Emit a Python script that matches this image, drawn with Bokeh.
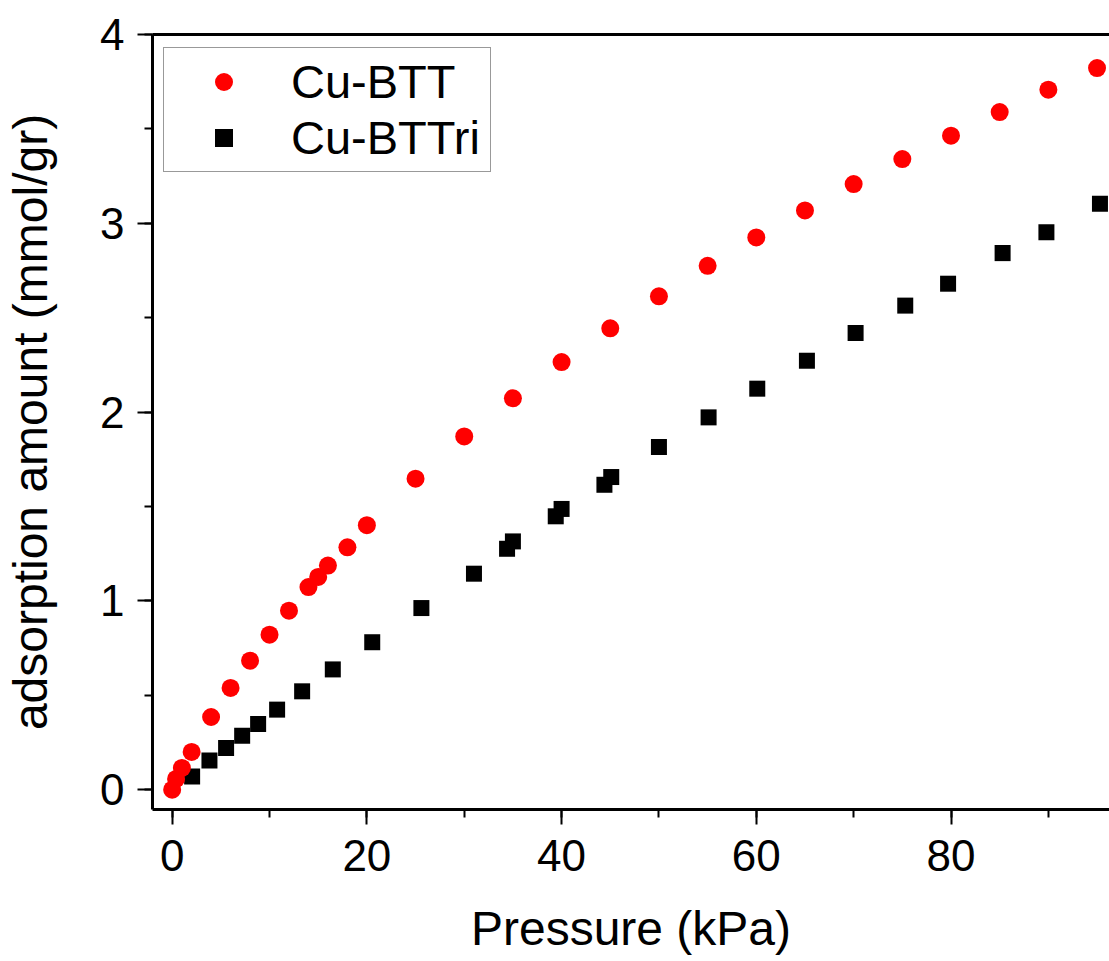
from bokeh.plotting import figure
from bokeh.models import (Range1d, SingleIntervalTicker, LinearAxis, FixedTicker,
                          Legend, LegendItem)
from bokeh.embed import file_html
from bokeh.resources import INLINE

# Cu-BTT (red circles)
btt_p = [0, 0.4, 1, 2, 4, 6, 8, 10, 12, 14, 15, 16, 18, 20, 25, 30, 35, 40, 45,
         50, 55, 60, 65, 70, 75, 80, 85, 90, 95]
btt_q = [0.0, 0.057, 0.115, 0.20, 0.385, 0.539, 0.683, 0.821, 0.948, 1.073, 1.127,
         1.187, 1.284, 1.401, 1.647, 1.871, 2.073, 2.265, 2.444,
         2.613, 2.775, 2.925, 3.068, 3.208, 3.340, 3.464, 3.589, 3.708, 3.822]

# Cu-BTTri (black squares)
bttri_p = [2.05, 3.83, 5.54, 7.19, 8.83, 10.78, 13.35, 16.5, 20.55, 25.6, 31.0,
           34.4, 35.0, 39.4, 40.0, 44.4, 45.1, 50.0, 55.1, 60.1, 65.2, 70.2,
           75.3, 79.7, 85.3, 89.8, 95.3]
bttri_q = [0.07, 0.154, 0.221, 0.286, 0.348, 0.424, 0.521, 0.637, 0.781, 0.962,
           1.144, 1.276, 1.315, 1.448, 1.487, 1.615, 1.656, 1.815, 1.972, 2.124,
           2.272, 2.419, 2.564, 2.680, 2.842, 2.952, 3.104]

x_label = "Pressure (kPa)"
y_label = "adsorption amount (mmol/gr)"
series_names = ["Cu-BTT", "Cu-BTTri"]

FONT = "Liberation Sans"

p = figure(width=1109, height=961, output_backend="svg", toolbar_location=None,
           x_range=Range1d(-2.02, 96.28), y_range=Range1d(-0.105, 4.0),
           min_border_left=152, min_border_right=0, min_border_top=34,
           min_border_bottom=152, x_axis_type=None, y_axis_type=None)

p.outline_line_color = None
p.xgrid.visible = False
p.ygrid.visible = False
p.background_fill_color = "white"
p.border_fill_color = "white"

xaxis = LinearAxis(ticker=SingleIntervalTicker(interval=20, num_minor_ticks=2))
yaxis = LinearAxis(ticker=SingleIntervalTicker(interval=1, num_minor_ticks=2))
p.add_layout(xaxis, "below")
p.add_layout(yaxis, "left")

for ax in (xaxis, yaxis):
    ax.axis_line_width = 3
    ax.axis_line_color = "black"
    ax.major_tick_line_width = 2
    ax.minor_tick_line_width = 2
    ax.major_tick_line_color = "black"
    ax.minor_tick_line_color = "black"
    ax.major_tick_in = 0
    ax.minor_tick_in = 0
    ax.major_tick_out = 15
    ax.minor_tick_out = 8
    ax.major_label_text_font = FONT
    ax.major_label_text_font_size = "44px"
    ax.major_label_text_color = "black"
    ax.axis_label_text_font = FONT
    ax.axis_label_text_font_size = "48px"
    ax.axis_label_text_font_style = "normal"
    ax.axis_label_text_color = "black"

xaxis.axis_label = x_label
yaxis.axis_label = y_label
xaxis.major_label_standoff = 15
xaxis.axis_label_standoff = 28
yaxis.major_label_standoff = 13
yaxis.axis_label_standoff = 40

top = LinearAxis(ticker=FixedTicker(ticks=[]), axis_line_width=3,
                 axis_line_color="black", major_label_text_font_size="0px",
                 major_tick_line_color=None, minor_tick_line_color=None)
p.add_layout(top, "above")

r_black = p.scatter(bttri_p, bttri_q, marker="square", size=16,
                    fill_color="black", line_color=None)
r_red = p.scatter(btt_p, btt_q, marker="circle", size=18,
                  fill_color="#ff0000", line_color=None)

legend = Legend(items=[LegendItem(label=series_names[0], renderers=[r_red]),
                       LegendItem(label=series_names[1], renderers=[r_black])],
                location=(11, 637))
legend.label_text_font = FONT
legend.label_text_font_size = "47px"
legend.label_text_color = "black"
legend.glyph_width = 107
legend.glyph_height = 45
legend.label_width = 193
legend.label_standoff = 14
legend.padding = 6
legend.spacing = 1
legend.margin = 0
legend.border_line_color = "#333333"
legend.border_line_width = 1.5
legend.background_fill_color = "white"
legend.background_fill_alpha = 1.0
p.add_layout(legend, "center")

open("out.html", "w").write(file_html(p, INLINE))
